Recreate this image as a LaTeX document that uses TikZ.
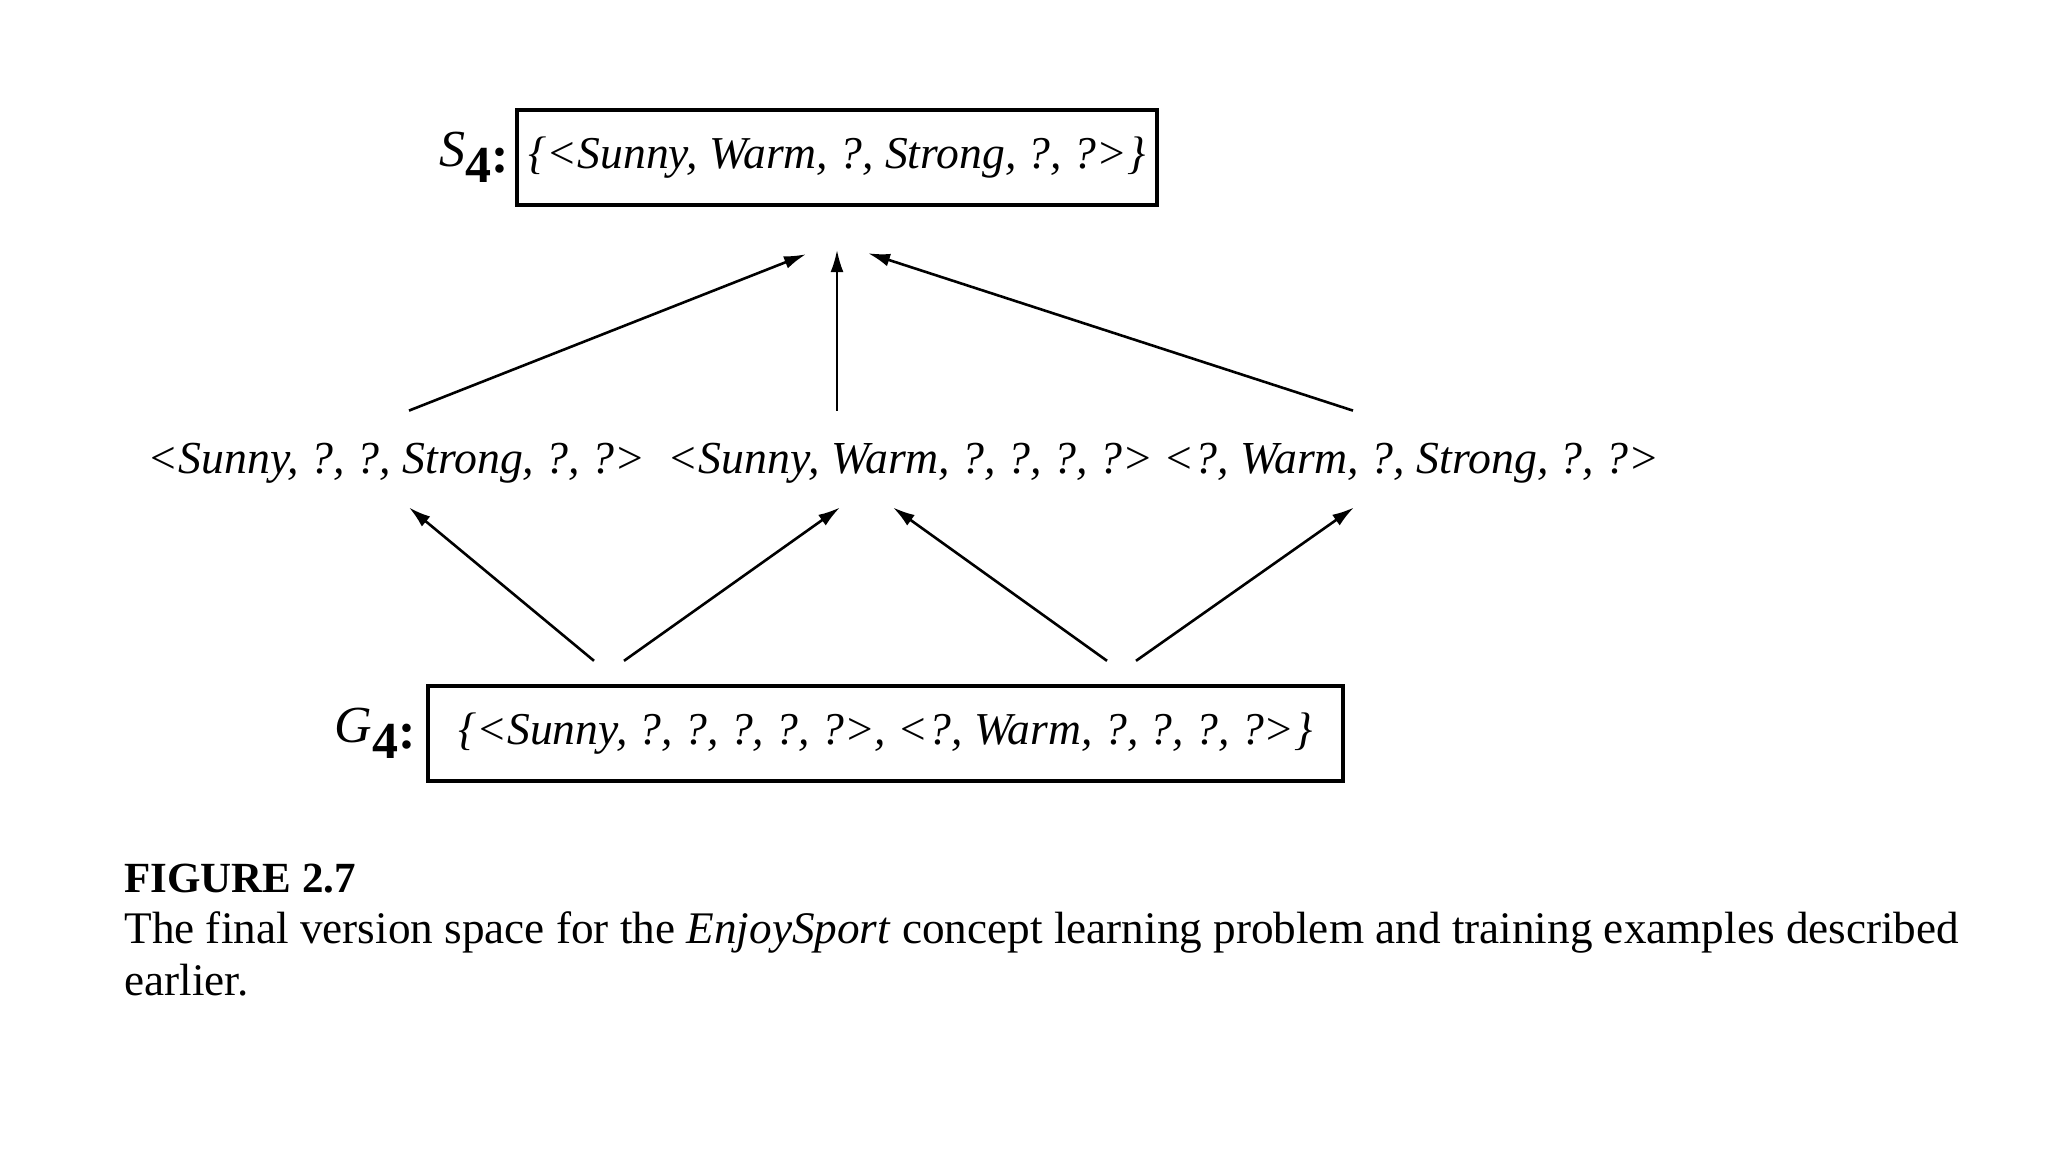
\documentclass[tikz,border=0pt]{standalone}
\usepackage{fontspec}
\setmainfont{Liberation Serif}
\usetikzlibrary{arrows.meta,positioning}

\begin{document}
\begin{tikzpicture}[
  x=0.5pt,y=-0.5pt,
  setbox/.style={draw,line width=2.2pt,inner sep=0pt,minimum height=47.5pt,
                 font=\fontsize{22.8}{26}\selectfont\itshape},
  hyp/.style={font=\fontsize{22.9}{26}\selectfont\itshape,inner sep=0pt,
              anchor=base,text height=16pt,text depth=5pt},
  setlabel/.style={font=\fontsize{26}{28}\selectfont,inner sep=0pt},
  up/.style={-{Latex[length=11pt,width=6.5pt]},line width=1.3pt},
  caption/.style={font=\fontsize{22.6}{26}\selectfont,anchor=base west,inner sep=0pt}
]
\useasboundingbox (0,0) rectangle (2048,1152);

% boundary sets
\node[setbox,minimum width=320pt] (s4) at (837,157.5) {\{<Sunny, Warm, ?, Strong, ?, ?>\}};
\node[setbox,minimum width=457.5pt] (g4) at (885.5,733.5) {\{<Sunny, ?, ?, ?, ?, ?>, <?, Warm, ?, ?, ?, ?>\}};
\node[setlabel,left=3pt of s4] (s4lab) {\textit{S}\raisebox{-8pt}{\textbf{4}}\raisebox{-3pt}{\textbf{:}}};
\node[setlabel,left=5pt of g4] (g4lab) {\textit{G}\raisebox{-8pt}{\textbf{4}}\raisebox{-3pt}{\textbf{:}}};

% hypotheses between
\node[hyp] (h1) at (396.5,473) {<Sunny, ?, ?, Strong, ?, ?>};
\node[hyp] (h2) at (910.5,473) {<Sunny, Warm, ?, ?, ?, ?>};
\node[hyp] (h3) at (1411.5,473) {<?, Warm, ?, Strong, ?, ?>};

\draw[up] ([xshift=6.25pt,yshift=15pt]h1.north) -- ([xshift=-15.5pt,yshift=-23.5pt]s4.south);
\draw[up,line width=0.9pt] ([xshift=-36.75pt,yshift=15pt]h2.north) -- ([yshift=-21.5pt]s4.south);
\draw[up] ([xshift=-29.25pt,yshift=15pt]h3.north) -- ([xshift=15.5pt,yshift=-23pt]s4.south);

\draw[up] ([xshift=-145.75pt,yshift=11.5pt]g4.north) -- ([xshift=6.25pt,yshift=-12pt]h1.south);
\draw[up] ([xshift=-130.75pt,yshift=11.5pt]g4.north) -- ([xshift=-35.25pt,yshift=-12pt]h2.south);
\draw[up] ([xshift=110.75pt,yshift=11.5pt]g4.north) -- ([xshift=-8.75pt,yshift=-12pt]h2.south);
\draw[up] ([xshift=125.25pt,yshift=11.5pt]g4.north) -- ([xshift=-28.75pt,yshift=-12pt]h3.south);

% caption
\node[caption,font=\fontsize{21.5}{26}\selectfont\bfseries] (fig) at (124,892) {FIGURE 2.7};
\node[caption] (cap1) at (124,943) {The final version space for the \textit{EnjoySport} concept learning problem and training examples described};
\node[caption] (cap2) at (124,995) {earlier.};
\end{tikzpicture}
\end{document}
